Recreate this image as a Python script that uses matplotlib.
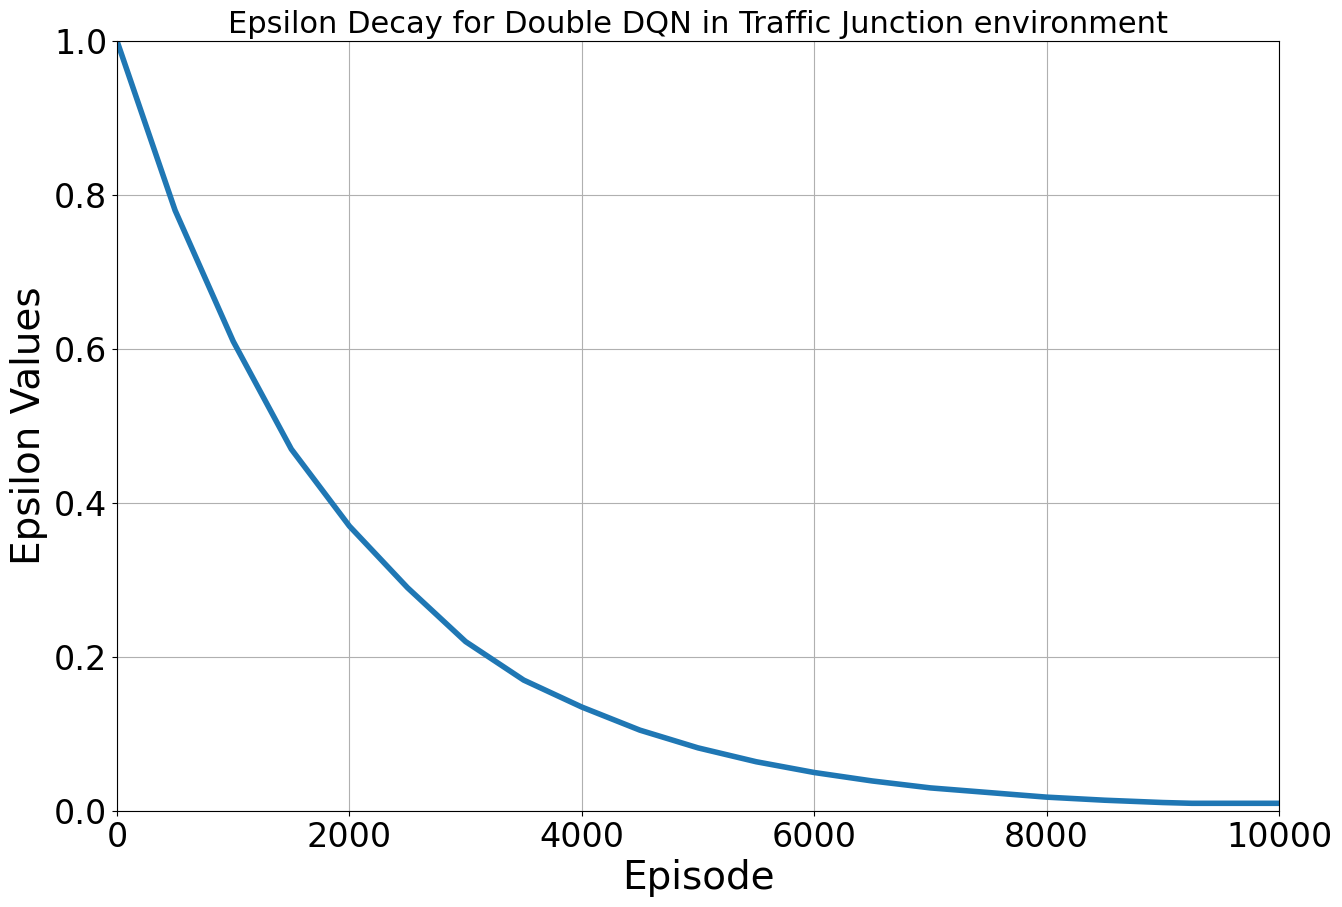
import matplotlib
matplotlib.use("Agg")
import matplotlib.pyplot as plt

# Epsilon values
episodes = [0, 500, 1000, 1500, 2000, 2500, 3000, 3500, 4000, 4500, 5000,
            5500, 6000, 6500, 7000, 7500, 8000, 8500, 9000, 9250, 10000]
epsilon = [1.0, 0.78, 0.61, 0.47, 0.37, 0.29, 0.22, 0.17, 0.135, 0.105, 0.082,
           0.064, 0.05, 0.039, 0.030, 0.024, 0.018, 0.014, 0.011, 0.01, 0.01]

fig = plt.figure(figsize=(13.42, 9.07), dpi=100)
ax = fig.add_axes([117 / 1342, 1 - 811 / 907, (1279 - 117) / 1342, (811 - 41) / 907])
ax.plot(episodes, epsilon, color="#1f77b4", linewidth=4)
ax.set_xlim(0, 10000)
ax.set_ylim(0, 1.0)
ax.grid(True)
ax.tick_params(labelsize=24)
ax.set_xlabel("Episode", fontsize=28)
ax.set_ylabel("Epsilon Values", fontsize=28)
ax.set_title("Epsilon Decay for Double DQN in Traffic Junction environment", fontsize=22)
fig.savefig("out.png", dpi=100)
